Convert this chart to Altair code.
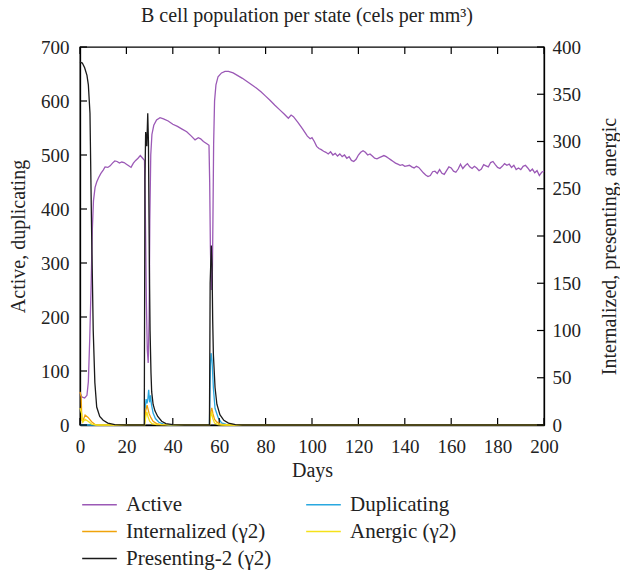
import altair as alt
import pandas as pd

FONT = "Liberation Serif"

# Active B cells (left axis)
active_days = [0, 0.8, 2, 3, 3.6, 4.2, 4.8, 5.3, 5.8, 6.5, 7.2, 8, 9, 10, 10.8, 12, 13, 14, 15, 16, 17, 18,
               19, 20, 21, 22, 23, 24, 25, 26, 27, 27.8, 28.2, 28.6, 29.0, 29.4, 29.8, 30.1, 30.5, 31, 31.8,
               33, 34.5, 36, 38, 40, 42, 44, 46, 48, 49.6, 51, 52, 53.2, 55, 55.6, 55.9, 56.2, 56.6, 57,
               57.3, 57.6, 58, 58.6, 59.5, 61, 62.5, 64, 66, 68, 70, 72, 74, 76, 78, 80, 82, 84, 86, 88,
               89.8, 91, 92, 94, 96, 98, 99.2, 100, 101, 102, 103, 104, 105, 106, 107, 108, 109, 110, 111,
               112, 113, 114, 115, 116, 117, 118, 119, 120, 121, 122, 123, 124, 125, 126, 127, 128, 129,
               130, 131, 132, 133, 134, 135, 136, 137, 138, 139, 140, 141, 142, 143, 144, 145, 146, 147,
               148, 149, 150, 151, 152, 153, 154, 155, 156, 157, 158, 159, 160, 161, 162, 163, 164, 165,
               166, 167, 168, 169, 170, 171, 172, 173, 174, 175, 176, 177, 178, 179, 180, 181, 182, 183,
               184, 185, 186, 187, 188, 189, 190, 191, 192, 193, 194, 195, 196, 197, 198, 199, 200]
active_vals = [60, 52, 50, 55, 80, 160, 260, 360, 415, 440, 450, 458, 466, 472, 478, 477, 480, 485, 489, 488,
               485, 487, 486, 483, 480, 477, 485, 490, 494, 499, 494, 490, 380, 230, 140, 115, 200, 380, 500,
               538, 555, 565, 569, 567, 563, 557, 553, 548, 543, 535, 528, 532, 530, 525, 520, 518, 450, 330,
               250, 260, 380, 520, 600, 630, 645, 652, 655, 655, 652, 647, 642, 636, 630, 624, 617, 609, 601,
               592, 584, 576, 568, 574, 571, 560, 548, 535, 530, 532, 525, 516, 512, 510, 507, 505, 502, 506,
               500, 503, 498, 502, 497, 500, 494, 497, 490, 488, 492, 500, 505, 508, 505, 500, 502, 498, 494,
               493, 495, 497, 499, 497, 494, 491, 488, 485, 483, 481, 482, 479, 480, 481, 478, 476, 479, 477,
               472, 467, 463, 460, 462, 469, 470, 466, 473, 466, 464, 471, 478, 476, 470, 468, 474, 483, 475,
               480, 484, 478, 475, 479, 476, 471, 474, 482, 480, 478, 486, 488, 482, 477, 475, 479, 484, 481,
               483, 477, 481, 473, 476, 473, 479, 481, 476, 470, 474, 467, 471, 462, 468, 470]

# Duplicating B cells (left axis)
dup_days = [0, 27.8, 28.1, 28.5, 28.9, 29.3, 29.6, 30.0, 30.4, 30.8, 31.5, 32.5, 34, 36, 38,
            55.8, 56.2, 56.5, 56.9, 57.5, 58.2, 59.6, 61, 63, 65, 200]
dup_vals = [0, 0, 30, 48, 40, 50, 65, 42, 55, 38, 22, 12, 5, 1.5, 0,
            0, 110, 133, 120, 68, 31, 13, 4, 1, 0, 0]

# Internalized (right axis)
int_days = [0, 0.5, 0.8, 1.2, 2.2, 3.5, 5, 6.5, 8, 27.8, 28.3, 28.9, 29.3, 29.8, 30.5, 31.5, 33, 35,
            55.8, 56.4, 56.8, 57.3, 58, 59, 60.5, 63, 200]
int_vals = [35, 30, 5, 4, 10.6, 8, 3.5, 0.5, 0, 0, 15, 21, 17, 12, 8, 4, 1.5, 0.3,
            0, 14, 18, 12, 6, 3, 1, 0, 0]

# Anergic (right axis)
anergic_days = [0, 0.7, 1.2, 2.2, 3.5, 5, 7, 27.8, 28.3, 28.8, 29.3, 30, 31, 33,
                55.8, 56.3, 56.7, 57.2, 58, 59.5, 61, 200]
anergic_vals = [18, 12, 3, 6, 4, 1, 0, 0, 8, 14, 9, 4, 1.5, 0.3,
                0, 9, 14, 7, 2, 0.5, 0, 0]

# Presenting-2 (right axis)
pres_days = [0, 1, 2, 3, 3.6, 4.3, 5, 5.7, 6.4, 7.2, 8.5, 10, 12, 15, 20, 27.7, 28.0, 28.3, 28.6, 28.8,
             29.2, 29.5, 29.9, 30.2, 30.6, 30.9, 31.5, 32.3, 33.5, 35.2, 37, 40, 45, 55.8, 56.1, 56.6,
             56.9, 57.2, 57.5, 58.2, 59, 60.3, 62, 64, 67, 70, 200]
pres_vals = [384, 383, 378, 370, 360, 330, 206, 100, 45, 19, 9, 5, 2, 0.3, 0, 0, 260, 310, 300, 295,
             330, 300, 170, 100, 55, 35, 22, 15, 9, 4, 1.5, 0.3, 0, 0, 150, 190,
             170, 110, 74, 40, 22, 11, 5, 2, 0.5, 0, 0]

series_names = ["Active", "Duplicating", "Internalized (\u03b32)", "Anergic (\u03b32)", "Presenting-2 (\u03b32)"]
series_colors = ["#9b59b6", "#29a8e0", "#f0a30a", "#f5e11a", "#1a1a1a"]

left_ticks = [0, 100, 200, 300, 400, 500, 600, 700]
right_ticks = [0, 50, 100, 150, 200, 250, 300, 350, 400]
day_ticks = [0, 20, 40, 60, 80, 100, 120, 140, 160, 180, 200]


def frame(name, days, vals, order):
    return pd.DataFrame({"day": days, "value": vals, "series": name, "order": order})


left_df = pd.concat([
    frame(series_names[0], active_days, active_vals, 0),
    frame(series_names[1], dup_days, dup_vals, 1),
])
right_df = pd.concat([
    frame(series_names[2], int_days, int_vals, 2),
    frame(series_names[3], anergic_days, anergic_vals, 3),
    frame(series_names[4], pres_days, pres_vals, 4),
])

W, H = 464, 378
x_scale = alt.Scale(domain=[0, 200], nice=False)
left_scale = alt.Scale(domain=[0, 700], nice=False)
right_scale = alt.Scale(domain=[0, 400], nice=False)

x_axis = alt.Axis(values=day_ticks, tickSize=0, labelPadding=12, labelFlush=False, title="Days",
                  titlePadding=4, grid=False, domainColor="black", domainWidth=1.3)
left_axis = alt.Axis(values=left_ticks, tickSize=0, labelPadding=11, labelFlush=False,
                     title="Active, duplicating", titlePadding=12, grid=False,
                     domainColor="black", domainWidth=1.3)
right_axis = alt.Axis(orient="right", values=right_ticks, tickSize=0, labelPadding=8, labelFlush=False,
                      title="Internalized, presenting, anergic", titleAngle=270, titleFontSize=20,
                      titleBaseline="top", titlePadding=19, titleY=199, titleAlign="center",
                      grid=False, domainColor="black", domainWidth=1.3)

color = alt.Color(
    "series:N",
    scale=alt.Scale(domain=series_names, range=series_colors),
    legend=alt.Legend(
        title=None, orient="none", legendX=9, legendY=447, columns=2, direction="horizontal",
        symbolType="M-2,0H2", symbolSize=300, symbolStrokeWidth=1.5, symbolFillColor="transparent",
        labelFont=FONT, labelFontSize=21, labelColor="#222", labelOffset=16,
        rowPadding=5, columnPadding=31, symbolOffset=0,
    ),
)

left_lines = alt.Chart(left_df).mark_line(strokeWidth=1.3).encode(
    x=alt.X("day:Q", scale=x_scale, axis=x_axis),
    y=alt.Y("value:Q", scale=left_scale, axis=left_axis),
    color=color,
    detail="series:N",
    order="day:Q",
)

right_lines = alt.Chart(right_df).mark_line(strokeWidth=1.3).encode(
    x=alt.X("day:Q", scale=x_scale, axis=x_axis),
    y=alt.Y("value:Q", scale=right_scale, axis=right_axis),
    color=color,
    detail="series:N",
    order="day:Q",
)

# Inward tick marks on all four sides of the frame
tick_len = 7
left_tick_df = pd.DataFrame({"value": left_ticks})
right_tick_df = pd.DataFrame({"value": right_ticks})
day_tick_df = pd.DataFrame({"day": day_ticks})

left_tick_marks = alt.Chart(left_tick_df).mark_rule(color="black", strokeWidth=1.2).encode(
    y=alt.Y("value:Q", scale=left_scale, axis=left_axis),
    x=alt.value(0), x2=alt.value(tick_len),
)
right_tick_marks = alt.Chart(right_tick_df).mark_rule(color="black", strokeWidth=1.2).encode(
    y=alt.Y("value:Q", scale=right_scale, axis=right_axis),
    x=alt.value(W - tick_len), x2=alt.value(W),
)
bottom_tick_marks = alt.Chart(day_tick_df).mark_rule(color="black", strokeWidth=1.2).encode(
    x=alt.X("day:Q", scale=x_scale, axis=x_axis),
    y=alt.value(H - tick_len), y2=alt.value(H),
)
top_tick_marks = alt.Chart(day_tick_df).mark_rule(color="black", strokeWidth=1.2).encode(
    x=alt.X("day:Q", scale=x_scale, axis=x_axis),
    y=alt.value(0), y2=alt.value(tick_len),
)

left_layer = alt.layer(left_lines, left_tick_marks, bottom_tick_marks, top_tick_marks)
right_layer = alt.layer(right_lines, right_tick_marks)

chart = alt.layer(left_layer, right_layer).resolve_scale(y="independent").properties(
    width=W, height=H,
    title=alt.TitleParams(
        text="B cell population per state (cels per mm\u00b3)",
        font=FONT, fontSize=20, fontWeight="normal", color="#222", anchor="middle",
        frame="group", offset=12, dx=-5,
    ),
    autosize=alt.AutoSizeParams(type="none"),
    padding={"left": 80, "top": 47, "right": 76, "bottom": 147},
).configure_view(
    stroke="black", strokeWidth=1.3,
).configure_axis(
    labelFont=FONT, labelFontSize=19, labelColor="#222",
    titleFont=FONT, titleFontSize=20, titleFontWeight="normal", titleColor="#222",
)

chart.save("out.html", embed_options={"renderer": "svg", "actions": False})
